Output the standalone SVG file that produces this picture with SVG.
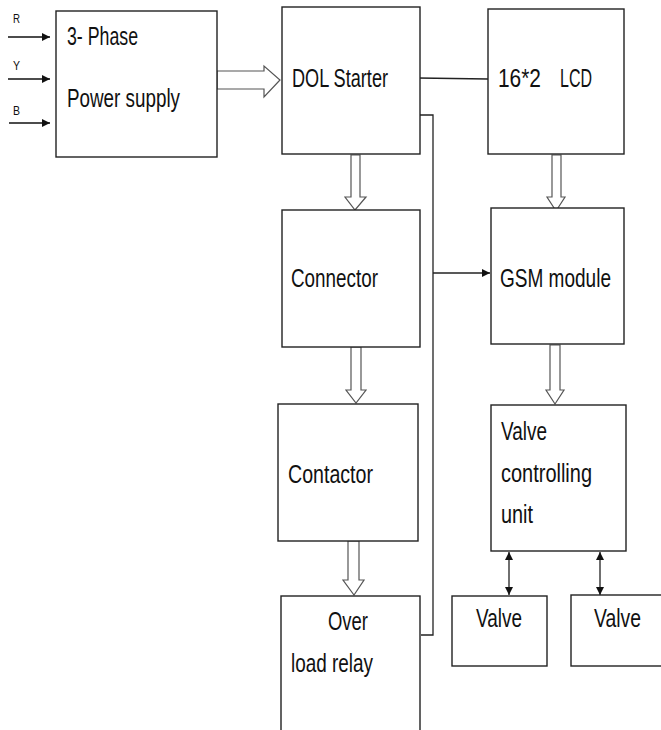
<svg xmlns="http://www.w3.org/2000/svg" width="661" height="730" viewBox="0 0 661 730">
<defs>
<style>
.box{fill:#fff;stroke:#222;stroke-width:1.4}
.t{font-family:"Liberation Sans","DejaVu Sans",sans-serif;font-size:25px;fill:#111}
.s{font-family:"Liberation Sans","DejaVu Sans",sans-serif;font-size:13px;fill:#111}
.w{fill:none;stroke:#222;stroke-width:1.3}
.in{fill:none;stroke:#111;stroke-width:1.7}
.h{fill:#fff;stroke:#555;stroke-width:1.2}
</style>
<marker id="ah" viewBox="0 0 10 10" refX="10" refY="5" markerWidth="8" markerHeight="8" markerUnits="userSpaceOnUse" orient="auto-start-reverse">
<path d="M0,0 L10,5 L0,10 z" fill="#111"/>
</marker>
</defs>
<rect width="661" height="730" fill="#fff"/>

<g id="connectors">
<line class="in" x1="8" y1="37" x2="50" y2="37" marker-end="url(#ah)"/>
<line class="in" x1="8" y1="79" x2="50" y2="79" marker-end="url(#ah)"/>
<line class="in" x1="9" y1="123" x2="50" y2="123" marker-end="url(#ah)"/>
<text class="s" x="13" y="23" textLength="7" lengthAdjust="spacingAndGlyphs">R</text>
<text class="s" x="13" y="70" textLength="7" lengthAdjust="spacingAndGlyphs">Y</text>
<text class="s" x="13" y="115" textLength="7" lengthAdjust="spacingAndGlyphs">B</text>
<path class="h" d="M217,71 L264,71 L264,66 L280,80 L264,97 L264,89 L217,89 z"/>
<path class="w" d="M418,78 L488,79"/>
<path class="w" d="M420,115 L433,115 L433,635 L421,635"/>
<line class="w" x1="433" y1="273" x2="490" y2="273" marker-end="url(#ah)"/>
<path class="h" d="M351,155 L360,155 L360,197 L366,197 L355,210 L345,197 L351,197 z"/>
<path class="h" d="M351,347 L361,347 L361,390 L366,390 L356,403 L346,390 L351,390 z"/>
<path class="h" d="M348,541 L359,541 L359,580 L364,580 L354,595 L343,580 L348,580 z"/>
<path class="h" d="M552,155 L561,155 L561,197 L565,197 L556,211 L547,197 L552,197 z"/>
<path class="h" d="M550,345 L560,345 L560,390 L564,390 L555,404 L546,390 L550,390 z"/>
<line class="w" x1="509" y1="552" x2="509" y2="595" marker-start="url(#ah)" marker-end="url(#ah)"/>
<line class="w" x1="600" y1="552" x2="600" y2="595" marker-start="url(#ah)" marker-end="url(#ah)"/>
</g>

<g id="power">
<rect class="box" x="56" y="11" width="161" height="146"/>
<text class="t" x="67" y="45" textLength="71" lengthAdjust="spacingAndGlyphs">3- Phase</text>
<text class="t" x="67" y="107" textLength="113" lengthAdjust="spacingAndGlyphs">Power supply</text>
</g>

<g id="dol">
<rect class="box" x="282" y="7" width="138" height="147"/>
<text class="t" x="292" y="87" textLength="96" lengthAdjust="spacingAndGlyphs">DOL Starter</text>
</g>

<g id="lcd">
<rect class="box" x="488" y="9" width="136" height="145"/>
<text class="t" y="87"><tspan x="498" textLength="43" lengthAdjust="spacingAndGlyphs">16*2</tspan><tspan x="560" textLength="32" lengthAdjust="spacingAndGlyphs">LCD</tspan></text>
</g>

<g id="connector">
<rect class="box" x="282" y="210" width="138" height="137"/>
<text class="t" x="291" y="287" textLength="87" lengthAdjust="spacingAndGlyphs">Connector</text>
</g>

<g id="gsm">
<rect class="box" x="491" y="208" width="133" height="136"/>
<text class="t" x="500" y="287" textLength="111" lengthAdjust="spacingAndGlyphs">GSM module</text>
</g>

<g id="contactor">
<rect class="box" x="278" y="404" width="140" height="137"/>
<text class="t" x="288" y="483" textLength="85" lengthAdjust="spacingAndGlyphs">Contactor</text>
</g>

<g id="valve-control">
<rect class="box" x="491" y="405" width="135" height="146"/>
<text class="t" x="501" y="440" textLength="46" lengthAdjust="spacingAndGlyphs">Valve</text>
<text class="t" x="501" y="482" textLength="91" lengthAdjust="spacingAndGlyphs">controlling</text>
<text class="t" x="501" y="523" textLength="32" lengthAdjust="spacingAndGlyphs">unit</text>
</g>

<g id="overload">
<rect class="box" x="281" y="596" width="139" height="150"/>
<text class="t" x="328" y="630" textLength="40" lengthAdjust="spacingAndGlyphs">Over</text>
<text class="t" x="291" y="672" textLength="82" lengthAdjust="spacingAndGlyphs">load relay</text>
</g>

<g id="valve1">
<rect class="box" x="452" y="596" width="95" height="70"/>
<text class="t" x="476" y="627" textLength="46" lengthAdjust="spacingAndGlyphs">Valve</text>
</g>

<g id="valve2">
<rect class="box" x="571" y="595" width="100" height="71"/>
<text class="t" x="594" y="627" textLength="47" lengthAdjust="spacingAndGlyphs">Valve</text>
</g>
</svg>
